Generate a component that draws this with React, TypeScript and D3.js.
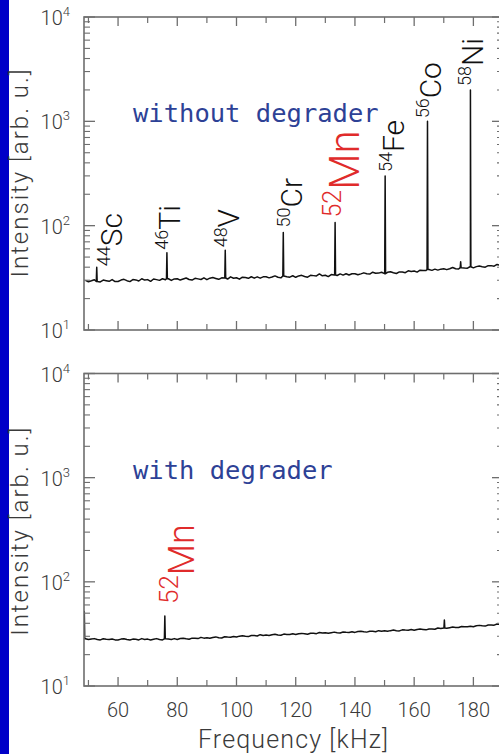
import React from 'react';
import * as d3 from 'd3';

// ---------- data ----------
const X_DOMAIN = [48.5, 190];
const X_MAJOR = [60, 80, 100, 120, 140, 160, 180];
const X_MINOR = [50, 70, 90, 110, 130, 150, 170, 190];
const Y_DECADES = [10, 100, 1000, 10000];

// spectrum sampled every 1 kHz starting at 49 kHz
const FREQ_START = 49;
const TOP_BASE = [
  29.9, 29.0, 29.6, 30.3, 29.2, 28.9, 30.1, 29.7, 29.3, 30.4, 29.1,
  29.2, 30.1, 30.6, 29.7, 29.1, 30.4, 30.2, 29.5, 31.0, 30.1,
  30.4, 29.3, 30.8, 30.4, 29.9, 31.0, 30.3, 31.0, 29.9, 30.9,
  31.0, 30.1, 30.8, 31.5, 30.5, 30.1, 31.3, 30.9, 30.5, 31.6,
  30.4, 31.4, 31.8, 31.2, 30.6, 31.6, 31.5, 30.8, 32.3, 31.3,
  31.7, 30.7, 32.1, 31.8, 31.3, 32.4, 31.4, 32.3, 31.4, 32.3,
  32.4, 31.6, 32.2, 33.0, 32.0, 31.6, 32.9, 32.4, 32.1, 33.1,
  32.0, 33.0, 33.4, 32.6, 32.1, 33.4, 33.2, 33.0, 34.5, 33.1,
  33.5, 32.5, 34.0, 33.7, 33.3, 34.5, 33.6, 34.6, 33.7, 34.6,
  34.6, 33.8, 34.5, 35.3, 34.6, 34.4, 35.8, 35.0, 35.1, 35.8,
  34.7, 35.7, 36.2, 35.4, 34.8, 36.0, 36.0, 35.4, 36.9, 36.4,
  36.8, 35.9, 37.4, 37.1, 37.2, 38.0, 37.3, 38.3, 37.5, 38.3,
  38.6, 37.9, 38.7, 39.7, 38.6, 38.4, 39.6, 39.3, 39.1, 40.4,
  39.4, 40.5, 41.1, 40.4, 40.0, 41.4, 41.4, 40.9, 42.5, 41.7, 42.2,
];
const TOP_PEAK_FREQ = [52.8, 76.5, 96.2, 115.8, 133.3, 150.2, 164.5, 179.0, 175.7];
const TOP_PEAK_VAL = [40, 55, 58, 86, 107, 299, 1000, 2000, 45];
const TOP_PEAK_MASS = ['44', '46', '48', '50', '52', '54', '56', '58', ''];
const TOP_PEAK_EL = ['Sc', 'Ti', 'V', 'Cr', 'Mn', 'Fe', 'Co', 'Ni', ''];

const BOT_BASE = [
  28.4, 27.9, 28.2, 28.5, 27.9, 27.7, 28.4, 28.1, 27.9, 28.3, 27.7,
  27.7, 28.2, 28.4, 27.9, 27.6, 28.2, 28.1, 27.7, 28.5, 28.0,
  28.2, 27.7, 28.1, 28.5, 27.9, 27.7, 28.4, 28.2, 28.0, 28.5,
  28.0, 28.6, 28.8, 28.4, 28.1, 28.8, 28.7, 28.5, 29.3, 28.8,
  29.1, 28.7, 29.2, 29.6, 29.0, 28.9, 29.7, 29.5, 29.4, 29.9,
  29.5, 30.1, 30.4, 30.0, 29.8, 30.5, 30.5, 30.2, 31.1, 30.6,
  30.9, 30.5, 31.0, 31.4, 30.9, 30.7, 31.5, 31.3, 31.2, 31.7,
  31.2, 31.8, 32.0, 31.7, 31.4, 32.1, 32.1, 31.8, 32.6, 32.2,
  32.5, 32.1, 32.5, 32.9, 32.5, 32.3, 33.0, 32.8, 32.7, 33.2,
  32.7, 33.3, 33.5, 33.1, 32.9, 33.5, 33.5, 33.2, 34.0, 33.6,
  33.9, 33.5, 34.0, 34.4, 34.0, 33.8, 34.6, 34.4, 34.3, 34.8,
  34.3, 34.9, 35.2, 34.9, 34.6, 35.3, 35.3, 35.1, 36.0, 35.7,
  36.0, 35.8, 36.3, 36.8, 36.5, 36.4, 37.3, 37.1, 37.1, 37.5,
  37.1, 37.8, 38.2, 37.8, 37.6, 38.5, 38.6, 38.4, 39.4, 39.1, 39.6,
];
const BOT_PEAK_FREQ = [48.6, 75.8, 170.2];
const BOT_PEAK_VAL = [52, 47, 43];
const BOT_PEAK_MASS = ['', '52', ''];
const BOT_PEAK_EL = ['', 'Mn', ''];

// ---------- layout / style ----------
const W = 499;
const H = 754;
const PLOT_L = 84;
const PLOT_R = 503;
const FONT = "Roboto, 'DejaVu Sans', sans-serif";
const TXT = '#3a3a3a';
const AXIS = '#6e6e6e';
const RED = '#e02b2b';
const BLUE = '#2d4196';

type Pt = { f: number; v: number };

function buildSeries(base: number[], pf: number[], pv: number[]): Pt[] {
  const pts: Pt[] = base.map((v, i) => ({ f: FREQ_START + i, v }));
  pf.forEach((f, i) => {
    const j = Math.max(0, Math.min(base.length - 1, Math.round(f - FREQ_START)));
    const lo = base[j];
    pts.push({ f: f - 0.15, v: lo }, { f, v: pv[i] }, { f: f + 0.15, v: lo });
  });
  pts.sort((a, b) => a.f - b.f);
  return pts;
}

type LabelStyle = { dx: number; gap: number; size: number; sup: number; supDy: number; color: string };

function Panel(props: {
  id: string;
  y0: number;
  y1: number;
  pts: Pt[];
  pf: number[];
  pv: number[];
  mass: string[];
  el: string[];
  styles: (LabelStyle | null)[];
  note: string;
}) {
  const { id, y0, y1, pts, pf, pv, mass, el, styles, note } = props;
  const x = d3.scaleLinear().domain(X_DOMAIN).range([PLOT_L, PLOT_R]);
  const y = d3.scaleLog().domain([10, 10000]).range([y1, y0]);
  const line = d3
    .line<Pt>()
    .x((d) => x(d.f))
    .y((d) => y(d.v));
  const minor: number[] = [];
  [10, 100, 1000].forEach((d) => {
    for (let k = 2; k <= 9; k++) minor.push(d * k);
  });
  return (
    <g>
      <defs>
        <clipPath id={id}>
          <rect x={PLOT_L} y={y0} width={PLOT_R - PLOT_L} height={y1 - y0} />
        </clipPath>
      </defs>
      <text x={133} y={y0 + 105} fontFamily="'DejaVu Sans Mono', monospace" fontSize={25.5} fill={BLUE}>
        {note}
      </text>
      <path
        d={line(pts) || ''}
        fill="none"
        stroke="#111"
        strokeWidth={1.5}
        strokeLinejoin="round"
        clipPath={`url(#${id})`}
      />
      {/* frame */}
      <rect x={PLOT_L} y={y0} width={PLOT_R - PLOT_L} height={y1 - y0} fill="none" stroke={AXIS} strokeWidth={1.6} />
      {/* x ticks */}
      {X_MAJOR.map((t) => (
        <g key={'xM' + t}>
          <line x1={x(t)} x2={x(t)} y1={y1} y2={y1 - 9} stroke={AXIS} strokeWidth={1.3} />
          <line x1={x(t)} x2={x(t)} y1={y0} y2={y0 + 9} stroke={AXIS} strokeWidth={1.3} />
        </g>
      ))}
      {X_MINOR.map((t) => (
        <g key={'xm' + t}>
          <line x1={x(t)} x2={x(t)} y1={y1} y2={y1 - 6} stroke={AXIS} strokeWidth={1.2} />
          <line x1={x(t)} x2={x(t)} y1={y0} y2={y0 + 6} stroke={AXIS} strokeWidth={1.2} />
        </g>
      ))}
      {/* y ticks */}
      {Y_DECADES.map((t) => (
        <g key={'yM' + t}>
          <line x1={PLOT_L} x2={PLOT_L + 11} y1={y(t)} y2={y(t)} stroke={AXIS} strokeWidth={1.3} />
          <line x1={PLOT_R} x2={PLOT_R - 11} y1={y(t)} y2={y(t)} stroke={AXIS} strokeWidth={1.3} />
          <text x={70} y={y(t) + 8} textAnchor="end" fontFamily={FONT} fontWeight={300} fontSize={20} fill={TXT}>
            <tspan>10</tspan>
            <tspan fontSize={13} dy={-9}>
              {Math.round(Math.log10(t))}
            </tspan>
          </text>
        </g>
      ))}
      {minor.map((t) => (
        <g key={'ym' + t}>
          <line x1={PLOT_L} x2={PLOT_L + 6} y1={y(t)} y2={y(t)} stroke={AXIS} strokeWidth={1.1} />
          <line x1={PLOT_R} x2={PLOT_R - 6} y1={y(t)} y2={y(t)} stroke={AXIS} strokeWidth={1.1} />
        </g>
      ))}
      {/* peak labels */}
      {pf.map((f, i) => {
        const s = styles[i];
        if (!s || !el[i]) return null;
        return (
          <text
            key={'lab' + i}
            transform={`translate(${x(f) + s.dx},${y(pv[i]) - s.gap}) rotate(-90)`}
            fontFamily={FONT}
            fontWeight={300}
            fill={s.color}
          >
            <tspan fontSize={s.sup} dy={s.supDy}>
              {mass[i]}
            </tspan>
            <tspan fontSize={s.size} dy={-s.supDy}>
              {el[i]}
            </tspan>
          </text>
        );
      })}
    </g>
  );
}

const blk = (dx: number, gap = 3): LabelStyle => ({ dx, gap, size: 30, sup: 18, supDy: -12, color: '#111' });

const TOP_STYLES: (LabelStyle | null)[] = [
  blk(25, 1),
  blk(13),
  blk(14),
  blk(19, 5),
  { dx: 24, gap: 5, size: 42, sup: 25, supDy: -18, color: RED },
  blk(19, 4),
  blk(14),
  blk(13, 4),
  null,
];
const BOT_STYLES: (LabelStyle | null)[] = [
  null,
  { dx: 29, gap: 12, size: 36, sup: 26, supDy: -16, color: RED },
  null,
];

export default function App() {
  const topPts = buildSeries(TOP_BASE, TOP_PEAK_FREQ, TOP_PEAK_VAL);
  const botPts = buildSeries(BOT_BASE, BOT_PEAK_FREQ, BOT_PEAK_VAL);
  const x = d3.scaleLinear().domain(X_DOMAIN).range([PLOT_L, PLOT_R]);
  const TOP_Y0 = 17,
    TOP_Y1 = 330,
    BOT_Y0 = 373.5,
    BOT_Y1 = 686;
  return (
    <svg
      width={W}
      height={H}
      viewBox={`0 0 ${W} ${H}`}
      style={{ position: 'absolute', left: 0, top: 0, display: 'block' }}
    >
      <rect x={0} y={0} width={W} height={H} fill="#fff" />
      <rect x={0} y={0} width={9} height={H} fill="#0000c8" />
      <Panel
        id="clipTop"
        y0={TOP_Y0}
        y1={TOP_Y1}
        pts={topPts}
        pf={TOP_PEAK_FREQ}
        pv={TOP_PEAK_VAL}
        mass={TOP_PEAK_MASS}
        el={TOP_PEAK_EL}
        styles={TOP_STYLES}
        note="without degrader"
      />
      <Panel
        id="clipBot"
        y0={BOT_Y0}
        y1={BOT_Y1}
        pts={botPts}
        pf={BOT_PEAK_FREQ}
        pv={BOT_PEAK_VAL}
        mass={BOT_PEAK_MASS}
        el={BOT_PEAK_EL}
        styles={BOT_STYLES}
        note="with degrader"
      />
      {X_MAJOR.map((t) => (
        <text
          key={'xl' + t}
          x={x(t)}
          y={717}
          textAnchor="middle"
          fontFamily={FONT}
          fontWeight={300}
          fontSize={20}
          fill={TXT}
        >
          {t}
        </text>
      ))}
      <text
        transform={`translate(28,${(TOP_Y0 + TOP_Y1) / 2}) rotate(-90)`}
        textAnchor="middle"
        fontFamily={FONT}
        fontWeight={300}
        fontSize={24}
        fill={TXT}
        textLength={208}
        lengthAdjust="spacing"
      >
        Intensity [arb. u.]
      </text>
      <text
        transform={`translate(28,${(BOT_Y0 + BOT_Y1) / 2 + 2}) rotate(-90)`}
        textAnchor="middle"
        fontFamily={FONT}
        fontWeight={300}
        fontSize={24}
        fill={TXT}
        textLength={208}
        lengthAdjust="spacing"
      >
        Intensity [arb. u.]
      </text>
      <text
        x={293}
        y={748}
        textAnchor="middle"
        fontFamily={FONT}
        fontWeight={300}
        fontSize={25}
        fill={TXT}
        textLength={190}
        lengthAdjust="spacing"
      >
        Frequency [kHz]
      </text>
    </svg>
  );
}
